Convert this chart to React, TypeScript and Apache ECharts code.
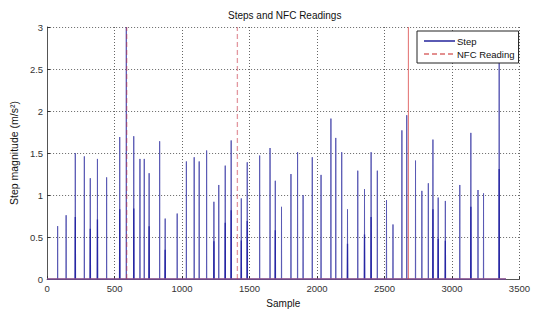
import React, { useEffect, useRef } from "react";
import * as echarts from "echarts";

// Step events: sample index and peak magnitude (m/s^2)
const stepSamples = [78, 141, 209, 276, 320, 373, 441, 538, 587, 642, 688, 720, 756, 834, 875, 964, 1032, 1090, 1127, 1182, 1236, 1272, 1320, 1364, 1439, 1483, 1575, 1652, 1691, 1737, 1807, 1856, 1897, 1965, 2030, 2103, 2139, 2183, 2226, 2302, 2352, 2401, 2447, 2515, 2563, 2629, 2665, 2730, 2777, 2825, 2859, 2898, 2951, 3058, 3140, 3193, 3234, 3350];
const stepPeaks = [0.63, 0.76, 1.5, 1.46, 1.2, 1.43, 1.21, 1.69, 3.0, 1.7, 1.43, 1.43, 1.26, 1.64, 0.72, 0.78, 1.4, 1.45, 1.4, 1.53, 0.92, 1.12, 1.35, 1.65, 0.96, 1.39, 1.47, 1.56, 1.17, 0.86, 1.25, 1.51, 1.0, 1.45, 1.24, 1.91, 1.68, 1.51, 0.83, 1.29, 1.07, 1.51, 1.29, 0.94, 0.65, 1.77, 1.95, 1.41, 1.05, 1.14, 1.66, 0.97, 0.93, 1.12, 1.74, 1.06, 1.02, 2.8];

// Secondary (following-sample) magnitudes of some steps
const lowSamples = [209, 320, 373, 538, 642, 756, 875, 1236, 1320, 1364, 1439, 1483, 1691, 2226, 2352, 2401, 2859, 2898, 2951, 3140, 3350];
const lowValues = [0.74, 0.6, 0.71, 0.83, 0.84, 0.63, 0.35, 0.45, 0.67, 0.82, 0.46, 0.69, 0.58, 0.42, 0.53, 0.74, 0.83, 0.48, 0.455, 0.86, 1.31];

// NFC readings
const nfcSamples = [590, 1410, 2677];
const nfcValues = [3, 3, 3];
const signalEnd = 3400;

const xTicks = { min: 0, max: 3500, interval: 500 };
const yTicks = { min: 0, max: 3, interval: 0.5 };

const FONT = "'Liberation Sans', Arial, Helvetica, sans-serif";
const NARROW = "'Liberation Sans Narrow', 'Liberation Sans', Arial, sans-serif";

function spikes(xs: number[], vs: number[]) {
  const out: number[][] = [[0, 0]];
  xs.forEach((x, i) => {
    out.push([x - 1, 0], [x, vs[i]], [x + 1, 0]);
  });
  out.push([signalEnd, 0]);
  return out;
}

export default function App() {
  const ref = useRef<HTMLDivElement>(null);
  useEffect(() => {
    if (!ref.current) return;
    const chart = echarts.init(ref.current, null, { renderer: "svg" });
    const stepColor = "#5a5ab4";
    const lowColor = "#2626a4";
    const nfcColor = "#c82020";
    const solidIdx = nfcSamples.length - 1;
    const spikeSeries = nfcSamples.map((x, i) => ({
      name: "nfc-spike-" + i,
      type: "line",
      data: [[x, 0], [x, nfcValues[i]]],
      symbol: "none",
      silent: true,
      z: 6,
      lineStyle: i === solidIdx
        ? { color: "#d83a3a", width: 1, type: "solid", opacity: 0.75 }
        : { color: "#c83040", width: 1.3, type: [5, 3], opacity: 0.5 },
    }));
    chart.setOption({
      animation: false,
      backgroundColor: "#fff",
      title: {
        text: "Steps and NFC Readings",
        left: 228,
        top: 10,
        padding: 0,
        textStyle: { fontSize: 10, fontWeight: "normal", color: "#111", fontFamily: FONT },
      },
      legend: {
        data: [
          "Step",
          { name: "NFC Reading", lineStyle: { color: nfcColor, width: 1.2, type: [5, 3], opacity: 1 } },
        ],
        orient: "vertical",
        left: 417,
        top: 31,
        padding: [5, 4, 4, 6],
        itemWidth: 31,
        itemHeight: 10,
        itemGap: 3,
        backgroundColor: "#fff",
        borderColor: "#222",
        borderWidth: 1,
        borderRadius: 0,
        itemStyle: { opacity: 0 },
        textStyle: { fontSize: 9.5, color: "#111", fontFamily: FONT, padding: [0, 0, 0, -3] },
      },
      grid: { left: 43, right: 8, top: 27, bottom: 27, containLabel: false },
      xAxis: {
        type: "value",
        ...xTicks,
        name: "Sample",
        nameLocation: "middle",
        nameGap: 15,
        nameTextStyle: { fontSize: 10, color: "#111", fontFamily: FONT },
        axisLine: { show: true, onZero: false, lineStyle: { color: "#555" } },
        axisTick: { show: true, inside: true, length: 3, lineStyle: { color: "#333" } },
        axisLabel: { margin: 4, fontSize: 9.5, color: "#333", fontFamily: NARROW, formatter: (v: number) => String(v) },
        splitLine: { show: true, lineStyle: { type: [1, 2], color: "#666" } },
      },
      yAxis: {
        type: "value",
        ...yTicks,
        name: "Step magnitude (m/s²)",
        nameLocation: "middle",
        nameGap: 22,
        nameRotate: 90,
        nameTextStyle: { fontSize: 10.5, color: "#111", fontFamily: FONT },
        axisLine: { show: true, lineStyle: { color: "#555" } },
        axisTick: { show: true, inside: true, length: 3, lineStyle: { color: "#333" } },
        axisLabel: { margin: 4, fontSize: 9.5, color: "#333", fontFamily: NARROW, formatter: (v: number) => String(v) },
        splitLine: { show: true, lineStyle: { type: [1, 2], color: "#666" } },
      },
      series: [
        {
          name: "Step",
          type: "line",
          data: spikes(stepSamples, stepPeaks),
          symbol: "none",
          lineStyle: { color: stepColor, width: 1 },
          itemStyle: { color: stepColor },
          z: 3,
        },
        {
          name: "StepLow",
          type: "line",
          data: spikes(lowSamples, lowValues),
          symbol: "none",
          lineStyle: { color: lowColor, width: 1.3 },
          itemStyle: { color: lowColor },
          z: 4,
        },
        {
          name: "NFC Reading",
          type: "line",
          data: [[0, 0], [signalEnd, 0]],
          symbol: "none",
          lineStyle: { color: "#e07070", width: 1, type: "solid" },
          itemStyle: { color: nfcColor },
          z: 5,
        },
        ...spikeSeries,
      ],
    });
    return () => chart.dispose();
  }, []);
  return (
    <div
      ref={ref}
      style={{ position: "absolute", left: 0, top: 0, width: 533, height: 313 }}
    />
  );
}
